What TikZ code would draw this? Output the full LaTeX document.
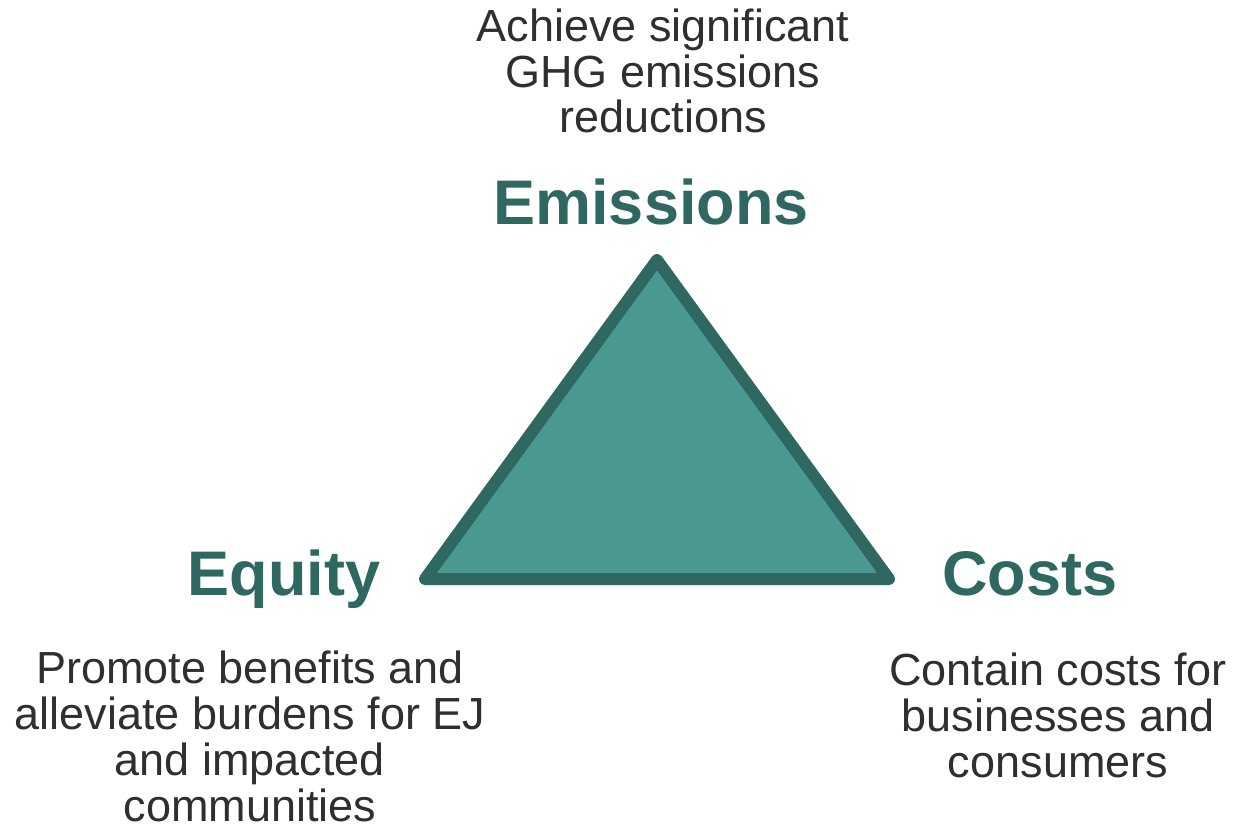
\documentclass[tikz,border=0pt]{standalone}
\usepackage{fontspec}
\setmainfont{Liberation Sans}
\definecolor{tfill}{HTML}{4A9990}
\definecolor{tline}{HTML}{2E6860}
\definecolor{body}{HTML}{2F2F2F}
\tikzset{
  head/.style={text=tline, font=\bfseries\fontsize{63}{66}\selectfont, inner sep=0pt, anchor=base},
  desc/.style={text=body, font=\fontsize{45}{46}\selectfont, align=center, inner sep=0pt, anchor=base},
}
\begin{document}
\begin{tikzpicture}[x=1pt,y=-1pt]
\useasboundingbox (0,0) rectangle (1234,824);
\fill[white] (0,0) rectangle (1234,824);
\draw[tline, fill=tfill, line width=12, line join=round, line cap=round] (657,260) -- (425,579) -- (889,579) -- cycle;
\node[head] (em) at (651,224) {Emissions};
\node[head] (eq) at (284,595) {Equity};
\node[head] (co) at (1030,595) {Costs};
\node[desc] (emd) at (663,133) {Achieve significant\\GHG emissions\\reductions};
\node[desc] (eqd) at (250,821) {Promote benefits and\\alleviate burdens for EJ\\and impacted\\communities};
\node[desc] (cod) at (1058,777) {Contain costs for\\businesses and\\consumers};
\end{tikzpicture}
\end{document}
